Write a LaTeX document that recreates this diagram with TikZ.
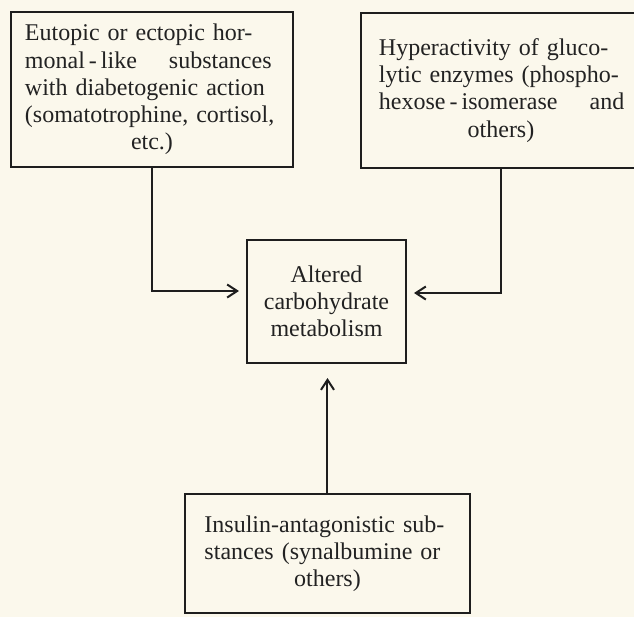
\documentclass[tikz,border=0pt]{standalone}
\usepackage{fontspec}
\setmainfont{Liberation Serif}
\usetikzlibrary{arrows.meta,positioning,calc}
\definecolor{paper}{HTML}{FBF8EC}
\definecolor{ink}{HTML}{222222}
\definecolor{stroke}{HTML}{1E1E1E}
% one justified line of a box: width, text
\newcommand{\fullline}[2]{\makebox[#1][s]{#2}}

\begin{document}
\begin{tikzpicture}[
  x=0.5pt, y=-0.5pt, >={Straight Barb[length=5pt,width=6.5pt]},
  box/.style={draw=stroke, line width=1pt, text=ink, inner sep=0pt, align=center,
    font=\fontsize{12}{13.6}\selectfont},
  flow/.style={->, draw=stroke, line width=1pt},
]
\fill[paper] (0,0) rectangle (634,617);
\useasboundingbox (0,0) rectangle (634,617);
% sources and target
\node[box, line width=1.3pt, text width=127pt, minimum width=141pt, minimum height=77.5pt] (horm) at (152,89.5)
  {\fullline{127pt}{Eutopic or ectopic hor-}\\
   \fullline{127pt}{monal\,-\,like \quad substances}\\
   \fullline{127pt}{with diabetogenic action}\\
   \fullline{127pt}{(somatotrophine, cortisol,}\\
   etc.)};
\node[box, text width=122pt, minimum width=140pt, minimum height=77.5pt] (enz) at (501,90.5)
  {\fullline{122pt}{Hyperactivity of gluco-}\\
   \fullline{122pt}{lytic enzymes (phospho-}\\
   \fullline{122pt}{hexose\,-\,isomerase \quad and}\\
   others)};
\node[box, minimum width=79.5pt, minimum height=61.5pt] (carb) at (326.5,301.5)
  {Altered\\carbohydrate\\metabolism};
\node[box, text width=123pt, minimum width=142.5pt, minimum height=59.5pt] (insul) at (327.5,553.5)
  {\fullline{123pt}{Insulin-antagonistic sub-}\\
   \fullline{123pt}{stances (synalbumine or}\\
   others)};

% flows
\draw[flow, shorten >=3.5pt] (horm.south) |- ([yshift=5.25pt]carb.west);
\draw[flow, shorten >=3.5pt] (enz.south) |- ([yshift=4.25pt]carb.east);
\draw[flow, shorten >=7pt] (insul.north) -- (insul.north |- carb.south);
\end{tikzpicture}
\end{document}
